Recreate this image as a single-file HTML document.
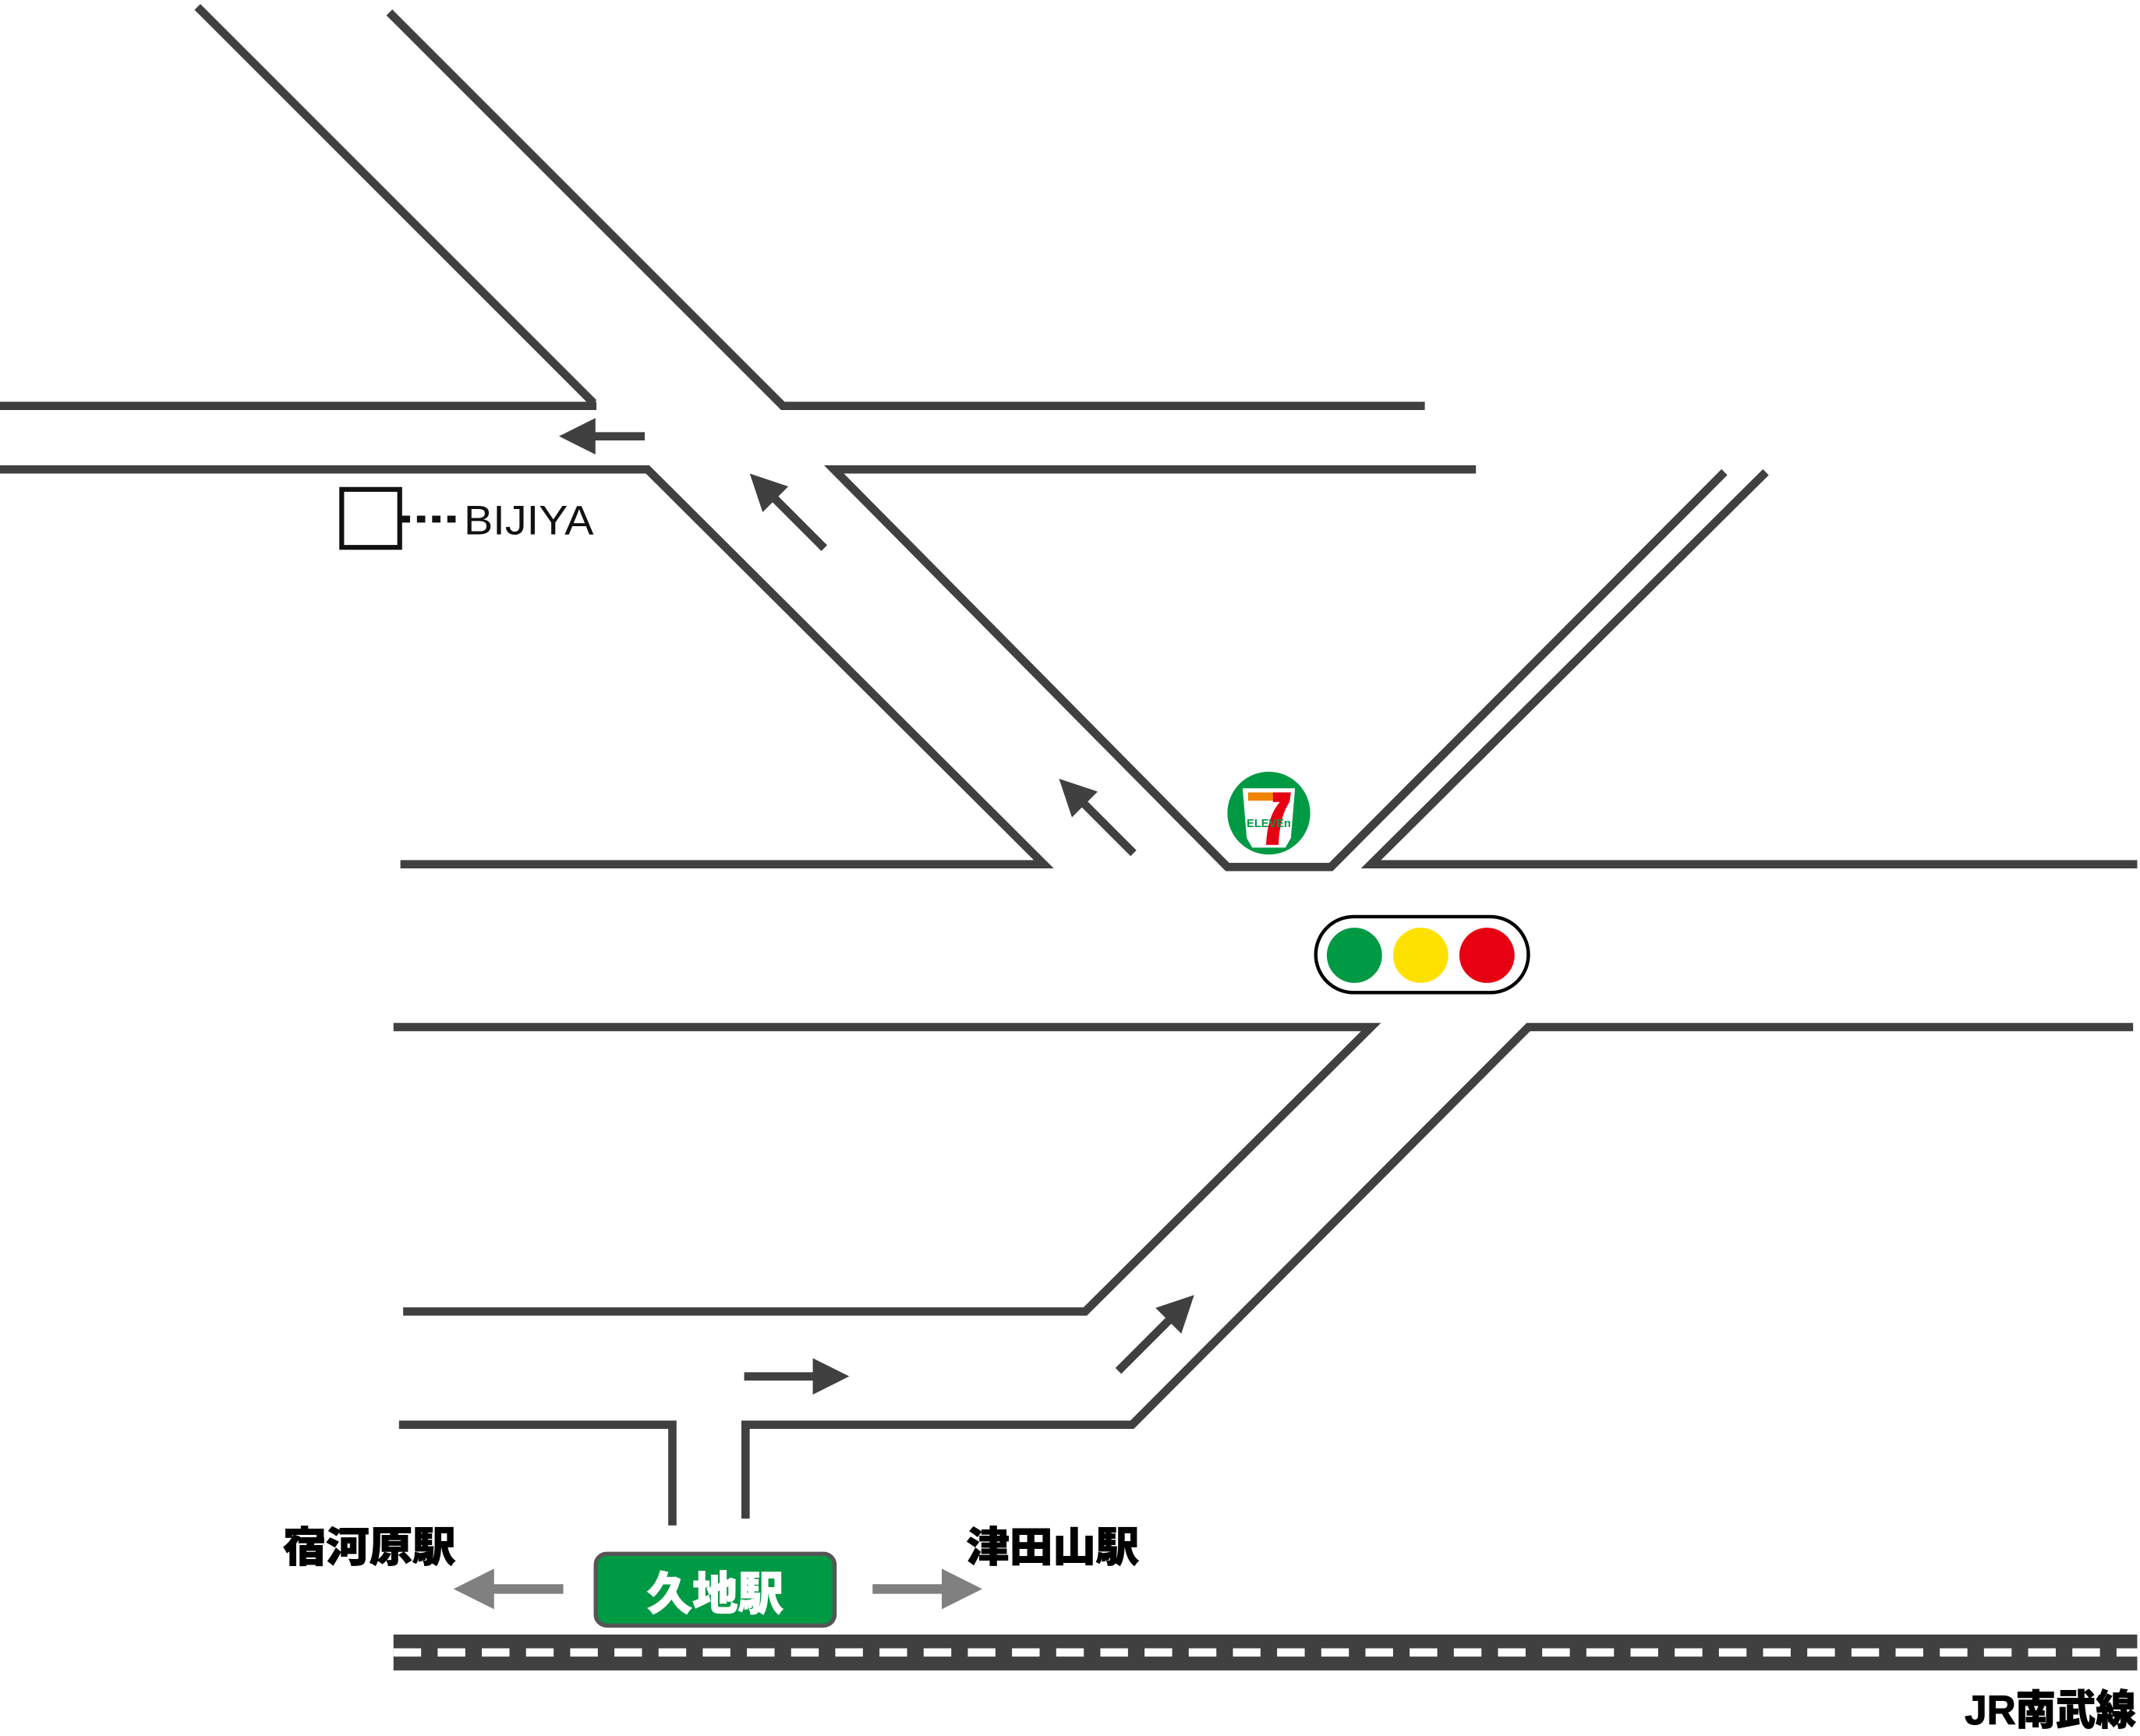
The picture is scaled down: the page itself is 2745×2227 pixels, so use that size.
<!DOCTYPE html>
<html><head><meta charset="utf-8"><style>html,body{margin:0;padding:0;background:#fff}svg{display:block}</style></head>
<body>
<svg width="2745" height="2227" viewBox="0 0 1550 1257.5" preserveAspectRatio="none" xmlns="http://www.w3.org/2000/svg">
<defs>
<marker id="ah" viewBox="0 0 10 10" refX="2" refY="5" markerWidth="4.4" markerHeight="4.4" orient="auto"><path d="M0,0 L10,5 L0,10 z" fill="#404040"/></marker>
<marker id="ag" viewBox="0 0 10 10" refX="2" refY="5" markerWidth="4.2" markerHeight="4.2" orient="auto"><path d="M0,0 L10,5 L0,10 z" fill="#808080"/></marker>
</defs>
<g fill="none" stroke="#404040" stroke-width="6" stroke-linejoin="miter">
<polyline points="143,5 430,292"/>
<polyline points="0,294 432,294"/>
<polyline points="282,9 567,294 1032,294"/>
<polyline points="0,340 469,340 756,626 290,626"/>
<polyline points="1069,340 604,340 889,628 964,628 1249,342"/>
<polyline points="1279,342 993,626 1548,626"/>
<polyline points="285,744 993,744 786,950 292,950"/>
<polyline points="1545,744 1107,744 820,1032 540,1032 540,1100"/>
<polyline points="289,1032 487,1032 487,1105"/>
<line x1="467" y1="316" x2="426" y2="316" marker-end="url(#ah)"/>
<line x1="597" y1="397" x2="558" y2="358" marker-end="url(#ah)"/>
<line x1="821" y1="618" x2="782" y2="579" marker-end="url(#ah)"/>
<line x1="539" y1="997" x2="594" y2="997" marker-end="url(#ah)"/>
<line x1="810" y1="993" x2="850" y2="953" marker-end="url(#ah)"/>
</g>
<g stroke="#808080" stroke-width="7">
<line x1="408" y1="1151" x2="352" y2="1151" marker-end="url(#ag)"/>
<line x1="632" y1="1151" x2="688" y2="1151" marker-end="url(#ag)"/>
</g>
<rect x="285" y="1184" width="1263" height="26" fill="#404040"/>
<line x1="285" y1="1197" x2="1548" y2="1197" stroke="#fff" stroke-width="6" stroke-dasharray="20 12"/>
<rect x="431.5" y="1125.5" width="173" height="52" rx="8" fill="#009944" stroke="#555" stroke-width="3"/>
<text x="518" y="1166" text-anchor="middle" font-family="Liberation Sans, Noto Sans CJK JP, sans-serif" font-weight="900" font-size="33" fill="#fff" stroke="#fff" stroke-width="0.6">久地駅</text>
<g font-family="Liberation Sans, Noto Sans CJK JP, sans-serif" font-weight="900" font-size="30" fill="#000" stroke="#000" stroke-width="0.6">
<text x="205" y="1131" textLength="125" lengthAdjust="spacingAndGlyphs">宿河原駅</text>
<text x="700" y="1131" textLength="125" lengthAdjust="spacingAndGlyphs">津田山駅</text>
<text x="1423" y="1249" textLength="124" lengthAdjust="spacingAndGlyphs">JR南武線</text>
</g>
<rect x="247.5" y="354.5" width="42" height="42" fill="none" stroke="#111" stroke-width="3.5"/>
<line x1="291" y1="376" x2="332" y2="376" stroke="#111" stroke-width="5" stroke-dasharray="6 5"/>
<text x="336" y="387" font-family="Liberation Sans, sans-serif" font-size="30" fill="#111" textLength="94" lengthAdjust="spacingAndGlyphs">BIJIYA</text>
<rect x="953" y="664" width="154" height="55" rx="27.5" fill="#fff" stroke="#000" stroke-width="2.5"/>
<circle cx="981" cy="692" r="20" fill="#009944"/>
<circle cx="1029" cy="692" r="20" fill="#ffe100"/>
<circle cx="1077" cy="692" r="20" fill="#e60012"/>
<circle cx="919" cy="589" r="30" fill="#009944"/>
<path d="M900,571 L938,571 L935,607 L931,614 L907,614 L903,607 z" fill="#fff"/>
<rect x="904" y="574" width="27" height="6" fill="#f08300"/>
<path d="M922,574 L935,574 L934,581 Q927,591 926,612 L917,612 Q918,591 927,581 L922,581 z" fill="#e60012"/>
<text x="919" y="599" text-anchor="middle" font-family="Liberation Sans, sans-serif" font-weight="bold" font-size="8.5" fill="#009944" textLength="32" lengthAdjust="spacingAndGlyphs">ELEVEn</text>
</svg>
</body></html>
